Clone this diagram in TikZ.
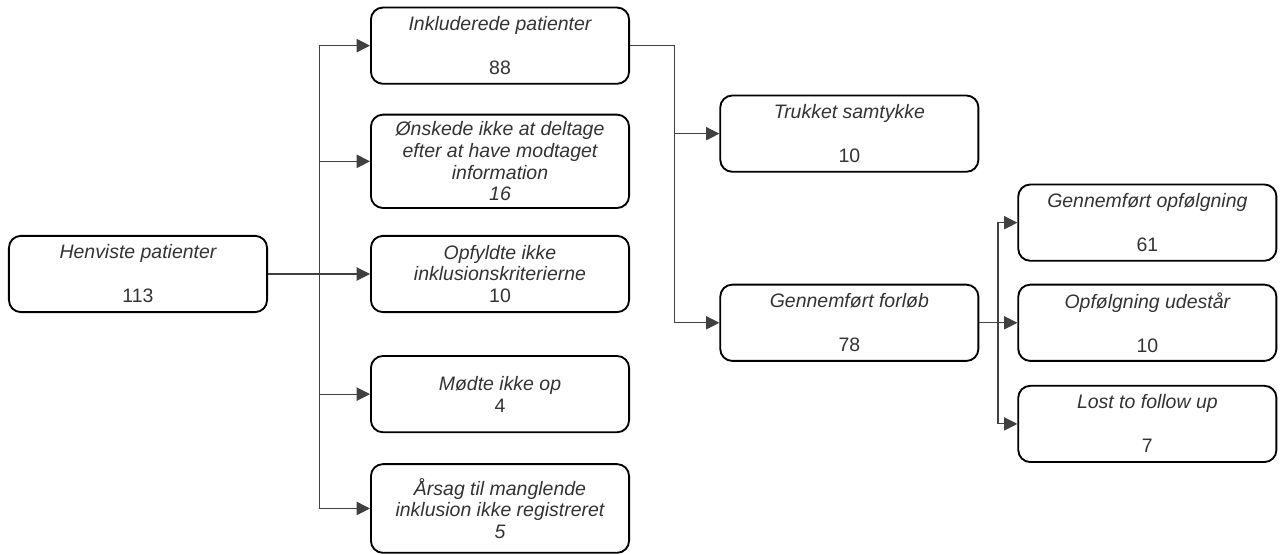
\documentclass[tikz,border=0pt]{standalone}
\usepackage{fontspec}
\setmainfont{Liberation Sans}
\usetikzlibrary{arrows.meta}
\usetikzlibrary{positioning, calc}

\begin{document}
\begin{tikzpicture}[
    box/.style={draw=black, line width=1.4pt, rounded corners=9pt, fill=white,
      minimum width=193.6pt, minimum height=57.2pt, align=center, inner sep=2pt,
      text=black!80, font=\fontsize{14.6pt}{16.3pt}\selectfont\itshape},
    link/.style={draw=black!75, line width=0.8pt},
    arr/.style={link, -{Triangle[length=10pt,width=10pt]}}
  ]
  \useasboundingbox (-103.5pt,-210.75pt) rectangle (859.5pt,205.5pt);

  % Boxes
  \node[box]                                  (henv)   {Henviste patienter\\[16.7pt]\upshape 113}; % all referred
  \node[box,right=76.5pt of henv]             (opf)    {Opfyldte ikke\\inklusionskriterierne\\\upshape 10};
  \node[box,minimum height=70pt,above=19.5pt of opf] (oensk) {Ønskede ikke at deltage\\efter at have modtaget\\information\\16};
  \node[box,above=21.75pt of oensk]           (inkl)   {Inkluderede patienter\\[16.7pt]\upshape 88}; % included
  \node[box,below=31.5pt of opf]              (moedte) {Mødte ikke op\\\upshape 4};
  \node[box,minimum height=66.5pt,below=22.5pt of moedte] (aarsag) {Årsag til manglende\\inklusion ikke registreret\\5};

  \node[box,anchor=west] (trukket) at ($(inkl.east)+(67pt,-66pt)$) {Trukket samtykke\\[16.7pt]\upshape 10};
  \node[box,below=83.25pt of trukket]         (forloeb) {Gennemført forløb\\[16.7pt]\upshape 78}; % completed course

  \node[box,right=28.5pt of forloeb]          (udest)  {Opfølgning udestår\\[16.7pt]\upshape 10};
  \node[box,above=16.5pt of udest]            (opfolg) {Gennemført opfølgning\\[16.7pt]\upshape 61};
  \node[box,below=17.25pt of udest]           (lost)   {Lost to follow up\\[16.7pt]\upshape 7};

  % Connectors
  % referred -> outcome of referral
  \coordinate (split1) at ($(henv.east)+(38.5pt,0)$);
  \draw[link] (henv.east) -- (split1);
  \foreach \n in {inkl,oensk,opf,moedte,aarsag}
    \draw[arr] (split1) |- (\n.west);

  % included -> withdrawn or completed
  \coordinate (split2) at ($(inkl.east)+(33.5pt,0)$);
  \draw[link] (inkl.east) -- (split2);
  \foreach \n in {trukket,forloeb}
    \draw[arr] (split2) |- (\n.west);

  % completed -> follow up
  \coordinate (split3) at ($(forloeb.east)+(14pt,0)$);
  \draw[link] (forloeb.east) -- (split3);
  \foreach \n in {opfolg,udest,lost}
    \draw[arr] (split3) |- (\n.west);

\end{tikzpicture}
\end{document}
